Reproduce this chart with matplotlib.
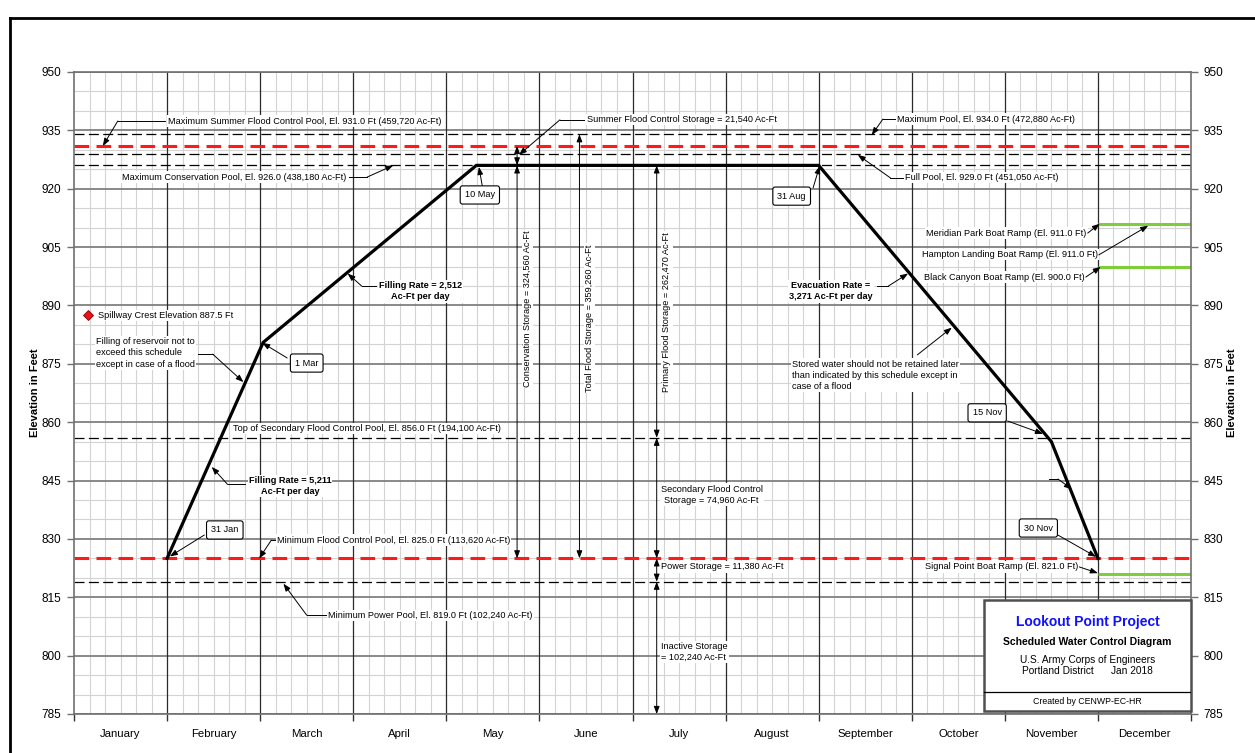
import numpy as np
import matplotlib.pyplot as plt
from matplotlib.patches import Rectangle
from matplotlib.lines import Line2D

plt.rcParams["font.family"] = ["Liberation Sans", "DejaVu Sans"]

# ---- data -------------------------------------------------------------
MONTHS = ["January", "February", "March", "April", "May", "June", "July",
          "August", "September", "October", "November", "December"]
DAYS_IN_MONTH = [31, 28, 31, 30, 31, 30, 31, 31, 30, 31, 30, 31]

# scheduled rule curve (month number, day) -> elevation
RULE_DATES = [(1, 31), (3, 1), (5, 10), (8, 31), (11, 15), (11, 30)]
RULE_LABELS = ["31 Jan", "1 Mar", "10 May", "31 Aug", "15 Nov", "30 Nov"]
RULE_ELEV = [825.0, 880.5, 926.0, 926.0, 855.0, 825.0]

# pool elevations (ft)
MAX_POOL = 934.0
MAX_SUMMER_FC = 931.0
FULL_POOL = 929.0
MAX_CONSERVATION = 926.0
TOP_SECONDARY_FC = 856.0
MIN_FC_POOL = 825.0
MIN_POWER_POOL = 819.0
BLACK_POOLS = [MAX_POOL, FULL_POOL, MAX_CONSERVATION, TOP_SECONDARY_FC, MIN_POWER_POOL]
RED_POOLS = [MAX_SUMMER_FC, MIN_FC_POOL]

SPILLWAY_CREST = 887.5

RAMP_NAMES = ["Meridian Park Boat Ramp", "Hampton Landing Boat Ramp",
              "Black Canyon Boat Ramp", "Signal Point Boat Ramp"]
RAMP_ELEV = [911.0, 911.0, 900.0, 821.0]

Y_TICKS = np.arange(785, 951, 15)


def date_pos(month, day):
    return month - 1 + day / DAYS_IN_MONTH[month - 1]


rule_x = [date_pos(m, d) for m, d in RULE_DATES]

# ---- figure -----------------------------------------------------------
fig = plt.figure(figsize=(12.55, 7.53), dpi=100)
ax = fig.add_axes([74 / 1255, 1 - 714 / 753, (1191 - 74) / 1255, (714 - 72) / 753])
ax.set_xlim(0, 12)
ax.set_ylim(785, 950)

# grid
ax.vlines([v for v in np.arange(0, 12.01, 1 / 6) if abs(v - round(v)) > 1e-6],
          785, 950, color="#d3d3d3", lw=0.8, zorder=0)
ax.hlines([v for v in np.arange(785, 951, 5) if (v - 785) % 15], 0, 12,
          color="#d3d3d3", lw=0.8, zorder=0)
ax.hlines(Y_TICKS, 0, 12, color="#808080", lw=1.3, zorder=0.5)
ax.vlines(np.arange(1, 12), 785, 950, color="#2a2a2a", lw=0.9, zorder=0.6)
for s in ax.spines.values():
    s.set_color("#707070")
    s.set_linewidth(1.2)

# pool lines
for lvl in BLACK_POOLS:
    ax.axhline(lvl, color="black", lw=0.9, dashes=(8, 3.5), zorder=2)
for lvl in RED_POOLS:
    ax.axhline(lvl, color="#ff1a1a", lw=2.2, dashes=(4.8, 2.4), zorder=2.2)

# boat ramps in December
for el in sorted(set(RAMP_ELEV)):
    ax.plot([11, 12], [el, el], color="#7dcd3c", lw=2.2, zorder=2.5, solid_capstyle="butt")

# rule curve
ax.plot(rule_x, RULE_ELEV, color="black", lw=2.3, zorder=3, solid_joinstyle="miter")

# spillway marker
ax.plot(0.15, SPILLWAY_CREST, marker="D", ms=5, color="#e8141a", mec="#8b0000",
        mew=0.6, zorder=4)

# ---- ticks ------------------------------------------------------------
ax.set_yticks(Y_TICKS)
ax.tick_params(axis="y", which="major", left=True, right=True, labelleft=True,
               labelright=True, length=5, width=1, color="#707070",
               labelsize=8.5, pad=4)
ax.set_xticks(np.arange(0, 13))
ax.set_xticklabels([])
ax.tick_params(axis="x", which="major", length=5, width=1, color="#333333")
ax.set_xticks(np.arange(0.5, 12), minor=True)
ax.set_xticklabels(MONTHS, minor=True)
ax.tick_params(axis="x", which="minor", length=0, labelsize=8.2, pad=11)
for xl in (35, 1232):
    fig.text(xl / 1255, 1 - 393 / 753, "Elevation in Feet", rotation=90,
             fontsize=8, fontweight="bold", ha="center", va="center")

# ---- annotations ------------------------------------------------------
FS = 6.6
LS = 1.3
WHITE = dict(fc="white", ec="none", pad=0.8)
ARROW = dict(arrowstyle="-|>,head_length=0.45,head_width=0.17", color="black",
             lw=0.7, shrinkA=0, shrinkB=0)
DARROW = dict(arrowstyle="<|-|>,head_length=0.45,head_width=0.17", color="black",
              lw=0.7, shrinkA=0, shrinkB=0)


def callout(txt, xy, path, ha="left", weight="normal", va="center"):
    ax.text(xy[0], xy[1], txt, ha=ha, va=va, fontsize=FS, fontweight=weight,
            bbox=WHITE, zorder=5, linespacing=LS, multialignment=ha)
    if len(path) > 2:
        xs, ys = zip(*path[:-1])
        ax.plot(xs, ys, color="black", lw=0.7, zorder=5)
    ax.annotate("", xy=path[-1], xytext=path[-2], arrowprops=ARROW, zorder=5)


def datebox(txt, xy, start, tip):
    ax.annotate("", xy=tip, xytext=start, arrowprops=ARROW, zorder=5)
    ax.text(xy[0], xy[1], txt, ha="center", va="center", fontsize=FS, zorder=6,
            bbox=dict(boxstyle="round,pad=0.5,rounding_size=0.25", fc="white",
                      ec="black", lw=0.8))


def span(x, lo, hi):
    ax.annotate("", xy=(x, hi), xytext=(x, lo), arrowprops=DARROW, zorder=4)


callout("Maximum Summer Flood Control Pool, El. 931.0 Ft (459,720 Ac-Ft)",
        (1.01, 937.4), [(0.98, 937.4), (0.47, 937.4), (0.31, MAX_SUMMER_FC)])
callout("Maximum Conservation Pool, El. 926.0 (438,180 Ac-Ft)", (2.93, 923.0),
        [(2.95, 923.0), (3.15, 923.0), (3.43, MAX_CONSERVATION)], ha="right")
callout("Summer Flood Control Storage = 21,540 Ac-Ft", (5.51, 937.7),
        [(5.48, 937.7), (5.22, 937.7), (4.78, 928.7)])
callout("Maximum Pool, El. 934.0 Ft (472,880 Ac-Ft)", (8.84, 937.9),
        [(8.82, 937.9), (8.69, 937.9), (8.57, MAX_POOL - 0.2)])
callout("Full Pool, El. 929.0 Ft (451,050 Ac-Ft)", (8.93, 922.8),
        [(8.91, 922.8), (8.77, 922.8), (8.42, FULL_POOL - 0.3)])
ax.text(1.71, 858.4, "Top of Secondary Flood Control Pool, El. 856.0 Ft (194,100 Ac-Ft)",
        ha="left", va="center", fontsize=FS, bbox=WHITE, zorder=5)
callout("Minimum Flood Control Pool, El. 825.0 Ft (113,620 Ac-Ft)", (2.18, 829.7),
        [(2.16, 829.7), (2.12, 829.7), (1.99, MIN_FC_POOL)])
callout("Minimum Power Pool, El. 819.0 Ft (102,240 Ac-Ft)", (2.73, 810.4),
        [(2.71, 810.4), (2.50, 810.4), (2.25, MIN_POWER_POOL - 0.5)])
callout("Filling Rate = 5,211\nAc-Ft per day", (2.32, 843.6),
        [(1.84, 844.0), (1.65, 844.0), (1.48, 848.5)], ha="center", weight="bold")
callout("Filling Rate = 2,512\nAc-Ft per day", (3.72, 893.6),
        [(3.24, 895.0), (3.09, 895.0), (2.94, 898.2)], ha="center", weight="bold")
callout("Evacuation Rate =\n3,271 Ac-Ft per day", (8.13, 893.6),
        [(8.63, 895.0), (8.75, 895.0), (8.96, 898.2)], ha="center", weight="bold")
callout("Filling of reservoir not to\nexceed this schedule\nexcept in case of a flood",
        (0.24, 877.8), [(1.33, 877.5), (1.49, 877.5), (1.82, 870.3)])
callout("Stored water should not be retained later\nthan indicated by this schedule except in\ncase of a flood",
        (7.71, 872.1), [(9.06, 877.3), (9.43, 884.3)])
ax.plot([10.47, 10.57], [845.4, 845.4], color="black", lw=0.7, zorder=5)
ax.annotate("", xy=(10.72, 842.8), xytext=(10.57, 845.4), arrowprops=ARROW, zorder=5)

ax.text(0.26, SPILLWAY_CREST, "Spillway Crest Elevation 887.5 Ft", ha="left",
        va="center", fontsize=FS, bbox=WHITE, zorder=5)

# boat ramp labels
callout(f"{RAMP_NAMES[0]} (El. {RAMP_ELEV[0]:.1f} Ft)", (10.88, 908.6),
        [(10.89, 908.6), (11.02, RAMP_ELEV[0])], ha="right")
callout(f"{RAMP_NAMES[1]} (El. {RAMP_ELEV[1]:.1f} Ft)", (11.0, 903.0),
        [(11.01, 903.0), (11.54, RAMP_ELEV[1] - 0.5)], ha="right")
callout(f"{RAMP_NAMES[2]} (El. {RAMP_ELEV[2]:.1f} Ft)", (10.86, 897.3),
        [(10.87, 897.3), (11.03, RAMP_ELEV[2] - 0.1)], ha="right")
callout(f"{RAMP_NAMES[3]} (El. {RAMP_ELEV[3]:.1f} Ft)", (10.79, 822.8),
        [(10.80, 822.8), (11.0, RAMP_ELEV[3] + 0.2)], ha="right")

# storage spans
span(4.76, MIN_FC_POOL, MAX_CONSERVATION)
span(4.76, MAX_CONSERVATION, MAX_SUMMER_FC)
span(5.43, MIN_FC_POOL, MAX_POOL)
span(6.26, TOP_SECONDARY_FC, MAX_CONSERVATION)
span(6.26, MIN_FC_POOL, TOP_SECONDARY_FC)
span(6.26, MIN_POWER_POOL, MIN_FC_POOL)
span(6.26, 785, MIN_POWER_POOL)

ax.text(4.87, 889.1, "Conservation Storage = 324,560 Ac-Ft", rotation=90,
        ha="center", va="center", fontsize=FS, bbox=WHITE, zorder=5)
ax.text(5.54, 886.8, "Total Flood Storage = 359,260 Ac-Ft", rotation=90,
        ha="center", va="center", fontsize=FS, bbox=WHITE, zorder=5)
ax.text(6.37, 888.3, "Primary Flood Storage = 262,470 Ac-Ft", rotation=90,
        ha="center", va="center", fontsize=FS, bbox=WHITE, zorder=5)
ax.text(6.85, 841.4, "Secondary Flood Control\nStorage = 74,960 Ac-Ft",
        ha="center", va="center", fontsize=FS, bbox=WHITE, zorder=5, linespacing=LS)
ax.text(6.31, 822.8, "Power Storage = 11,380 Ac-Ft", ha="left", va="center",
        fontsize=FS, bbox=WHITE, zorder=5)
ax.text(6.31, 800.9, "Inactive Storage\n= 102,240 Ac-Ft", ha="left", va="center",
        fontsize=FS, bbox=WHITE, zorder=5, linespacing=LS)

# date boxes on the rule curve
datebox(RULE_LABELS[0], (1.62, 832.3), (1.40, 831.0), (rule_x[0] + 0.03, RULE_ELEV[0] + 0.5))
datebox(RULE_LABELS[1], (2.50, 875.2), (2.29, 876.5), (rule_x[1] - 0.01, RULE_ELEV[1] - 0.1))
datebox(RULE_LABELS[2], (4.36, 918.4), (4.39, 920.2), (4.35, RULE_ELEV[2] - 0.4))
datebox(RULE_LABELS[3], (7.71, 918.1), (7.94, 920.2), (rule_x[3] + 0.01, RULE_ELEV[3] - 0.2))
datebox(RULE_LABELS[4], (9.81, 862.4), (10.03, 860.3), (10.41, 857.0))
datebox(RULE_LABELS[5], (10.36, 832.8), (10.57, 831.0), (rule_x[5] - 0.02, RULE_ELEV[5] + 0.4))

# ---- title block ------------------------------------------------------
ax.add_patch(Rectangle((9.78, 785.8), 12 - 9.78, 814.3 - 785.8, fc="white",
                       ec="#505050", lw=1.8, zorder=7, clip_on=False))
ax.plot([9.78, 12], [790.7, 790.7], color="black", lw=0.9, zorder=8)
tx = (9.78 + 12) / 2
ax.text(tx, 808.6, "Lookout Point Project", ha="center", va="center",
        fontsize=10, fontweight="bold", color="#1010ff", zorder=8)
ax.text(tx, 803.5, "Scheduled Water Control Diagram", ha="center", va="center",
        fontsize=7.5, fontweight="bold", zorder=8)
ax.text(tx, 798.9, "U.S. Army Corps of Engineers", ha="center", va="center",
        fontsize=7.3, zorder=8)
ax.text(tx, 796.0, "Portland District      Jan 2018", ha="center", va="center",
        fontsize=7.3, zorder=8)
ax.text(tx, 788.2, "Created by CENWP-EC-HR", ha="center", va="center",
        fontsize=6.3, zorder=8)

# outer page frame
fig.add_artist(Line2D([10 / 1255, 10 / 1255], [0, 1 - 18 / 753],
                      transform=fig.transFigure, color="black", lw=2))
fig.add_artist(Line2D([10 / 1255, 1.0], [1 - 18 / 753, 1 - 18 / 753],
                      transform=fig.transFigure, color="black", lw=2))

fig.savefig("out.png", dpi=100)
